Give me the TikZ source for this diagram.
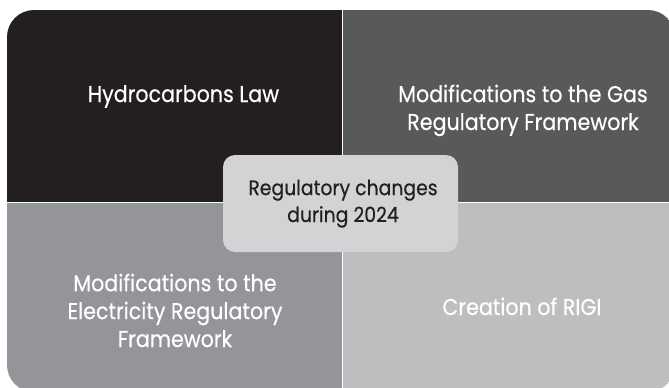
\documentclass[tikz,border=0pt]{standalone}
\usepackage{fontspec}
\setmainfont{Poppins}[FakeStretch=0.9, FakeBold=0.4]
\definecolor{qtl}{HTML}{231F20}
\definecolor{qtr}{HTML}{58595B}
\definecolor{qbl}{HTML}{939598}
\definecolor{qbr}{HTML}{BCBEC0}
\definecolor{hub}{HTML}{D1D3D4}
\begin{document}
\begin{tikzpicture}[x=1bp,y=-1bp,
  quadtext/.style={font=\fontsize{23}{28}\selectfont, text=white, align=center, inner sep=0pt},
  hubtext/.style={font=\fontsize{21}{27}\selectfont, text=qtl, align=center, inner sep=0pt},
  hubbox/.style={fill=hub, rounded corners=12bp, draw=none},
  divider/.style={draw=white, line width=0.6bp}]
\useasboundingbox (0,0) rectangle (669,387);
% four quadrants inside one rounded frame
\begin{scope}
  \clip[rounded corners=27bp] (7,10) rectangle (675,392);
  \fill[qtl] (7,10) rectangle (342,202);
  \fill[qtr] (342,10) rectangle (675,202);
  \fill[qbl] (7,202) rectangle (342,392);
  \fill[qbr] (342,202) rectangle (675,392);
\end{scope}
\path[divider] (342,10) -- (342,392);
\path[divider] (7,202) -- (675,202);
% quadrant labels (base anchor sits on the last line)
\node[quadtext, anchor=base] (hydro) at (183.5,102) {Hydrocarbons Law};
\node[quadtext, anchor=base] (gas) at (523,130) {Modifications to the Gas\\Regulatory Framework};
\node[quadtext, anchor=base] (elec) at (175,347) {Modifications to the\\Electricity Regulatory\\Framework};
\node[quadtext, anchor=base] (rigi) at (522,315) {Creation of RIGI};
% central box
\draw[hubbox] (223,155) rectangle (458,252);
\node[hubtext, anchor=base] (hub) at (343,222) {Regulatory changes\\during 2024};
\end{tikzpicture}
\end{document}
